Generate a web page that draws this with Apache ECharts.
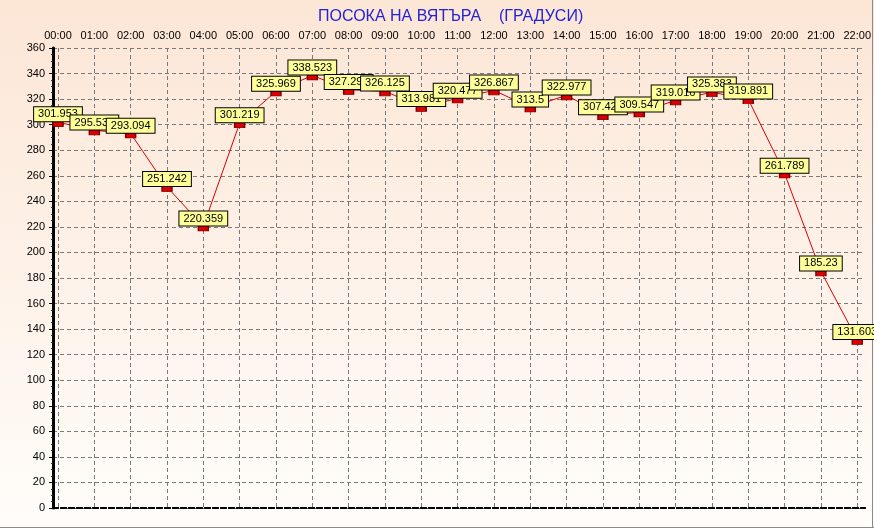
<!DOCTYPE html>
<html>
<head>
<meta charset="utf-8">
<script src="https://cdn.jsdelivr.net/npm/echarts@6/dist/echarts.min.js"></script>
<style>
html,body{margin:0;padding:0;background:#fff;}
#chart{width:874px;height:529px;}
</style>
</head>
<body>
<div id="chart"></div>
<script>
const titleText = 'ПОСОКА НА ВЯТЪРА    (ГРАДУСИ)';
const hours = ['00:00','01:00','02:00','03:00','04:00','05:00','06:00','07:00','08:00','09:00','10:00','11:00',
               '12:00','13:00','14:00','15:00','16:00','17:00','18:00','19:00','20:00','21:00','22:00'];
const direction = [301.953, 295.535, 293.094, 251.242, 220.359, 301.219, 325.969, 338.523, 327.293, 326.125,
                   313.981, 320.477, 326.867, 313.5, 322.977, 307.428, 309.547, 319.016, 325.383, 319.891,
                   261.789, 185.23, 131.603];
const yMin = 0, yMax = 360, yStep = 20;

const FONT = 'Liberation Sans, Arial, sans-serif';
const chart = echarts.init(document.getElementById('chart'), null, {renderer: 'canvas'});
const dashedBlack = {show: true, lineStyle: {color: '#000', type: [5, 3], width: 2}};
const gridDash = {show: true, lineStyle: {color: '#7a7a7a', type: [4, 3], width: 1}};

chart.setOption({
  animation: false,
  backgroundColor: new echarts.graphic.LinearGradient(0, 0, 0, 1, [
    {offset: 0, color: '#fce6d6'},
    {offset: 1, color: '#fffdfa'}
  ]),
  title: {
    text: titleText,
    left: 313,
    top: 4,
    textStyle: {color: '#2424d0', fontSize: 16, fontWeight: 'normal', fontFamily: FONT}
  },
  grid: [
    {left: 53, right: 9, top: 48, bottom: 21},
    {left: 58, right: 12, top: 48, bottom: 21}
  ],
  xAxis: [
    {gridIndex: 0, type: 'value', min: 0, max: 1, position: 'bottom',
     axisLine: dashedBlack, axisTick: {show: false}, axisLabel: {show: false}, splitLine: {show: false}},
    {gridIndex: 0, type: 'value', min: 0, max: 1, position: 'top',
     axisLine: dashedBlack, axisTick: {show: false}, axisLabel: {show: false}, splitLine: {show: false}},
    {gridIndex: 1, type: 'category', data: hours, boundaryGap: false, position: 'top',
     axisLine: {show: false}, axisTick: {show: false},
     axisLabel: {margin: 7, color: '#000', fontSize: 11, fontFamily: FONT, interval: 0},
     splitLine: Object.assign({interval: 0}, gridDash)}
  ],
  yAxis: [
    {gridIndex: 0, type: 'value', min: yMin, max: yMax, interval: yStep, position: 'left',
     axisLine: {show: true, lineStyle: {color: '#000', width: 3}},
     axisTick: {show: true, length: 4, lineStyle: {color: '#000'}},
     minorTick: {show: true, splitNumber: 4, length: 2, lineStyle: {color: '#333'}},
     axisLabel: {margin: 8, color: '#000', fontSize: 11, fontFamily: FONT},
     splitLine: gridDash},
    {gridIndex: 0, type: 'value', min: yMin, max: yMax, position: 'right',
     axisLine: {show: true, lineStyle: {color: '#000', width: 1.5}},
     axisTick: {show: false}, axisLabel: {show: false}, splitLine: {show: false}},
    {gridIndex: 1, type: 'value', min: yMin, max: yMax, show: false}
  ],
  series: [{
    type: 'line',
    xAxisIndex: 2,
    yAxisIndex: 2,
    data: direction,
    symbol: 'rect',
    symbolSize: [10, 5],
    symbolOffset: [0, 2],
    showAllSymbol: true,
    lineStyle: {color: '#dd0000', width: 1},
    itemStyle: {color: '#dd0000', borderColor: '#7a0000', borderWidth: 1},
    label: {
      show: true,
      position: 'top',
      distance: 0,
      color: '#000',
      fontSize: 11,
      fontFamily: FONT,
      lineHeight: 12,
      backgroundColor: '#ffff99',
      borderColor: '#000',
      borderWidth: 1,
      padding: [1, 4, 1, 4]
    },
    z: 3
  }],
  graphic: [
    {type: 'line', shape: {x1: 0, y1: 527.5, x2: 874, y2: 527.5}, style: {stroke: '#8a8a8a', lineWidth: 1}, silent: true},
    {type: 'line', shape: {x1: 872.5, y1: 0, x2: 872.5, y2: 528}, style: {stroke: '#8a8a8a', lineWidth: 1}, silent: true}
  ]
});
</script>
</body>
</html>
